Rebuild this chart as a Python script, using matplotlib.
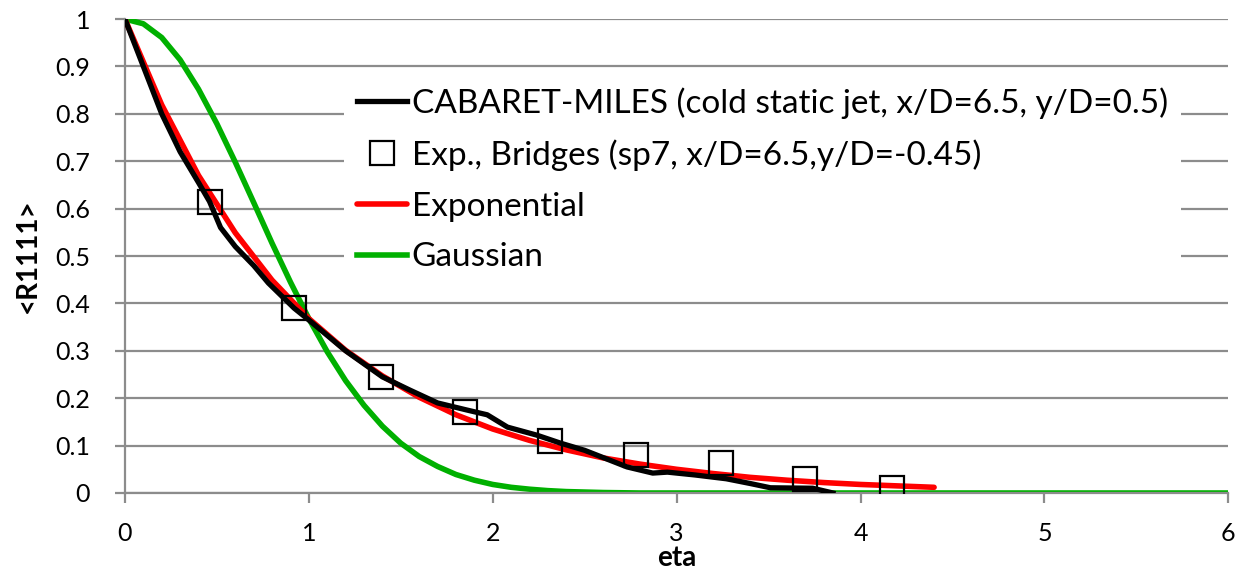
import numpy as np
import matplotlib
matplotlib.use("Agg")
from matplotlib import pyplot as plt

plt.rcParams['font.family'] = ['Lato', 'DejaVu Sans']

# CABARET-MILES correlation curve
les_eta = [0.0, 0.1, 0.2, 0.3, 0.4, 0.46, 0.52, 0.6, 0.7, 0.78, 0.92, 1.0, 1.2, 1.4,
           1.55, 1.7, 1.86, 1.97, 2.08, 2.24, 2.37, 2.5, 2.73, 2.87, 2.95, 3.1, 3.27,
           3.4, 3.51, 3.74, 3.85]
les_r = [1.0, 0.9, 0.80, 0.72, 0.655, 0.615, 0.56, 0.52, 0.48, 0.443, 0.39, 0.365, 0.30,
         0.245, 0.217, 0.19, 0.175, 0.165, 0.139, 0.122, 0.105, 0.09, 0.055, 0.042,
         0.044, 0.038, 0.030, 0.02, 0.011, 0.01, 0.0]

# Bridges experiment
exp_eta = [0.46, 0.92, 1.39, 1.85, 2.31, 2.78, 3.24, 3.70, 4.17]
exp_r = [0.615, 0.39, 0.245, 0.17, 0.11, 0.08, 0.063, 0.03, 0.01]

# exponential fit
fit_eta = [0.0, 0.2, 0.4, 0.6, 0.8, 1.0, 1.2, 1.4, 1.6, 1.8, 2.0, 2.2, 2.4, 2.6, 2.8,
           3.0, 3.2, 3.4, 3.6, 3.8, 4.0, 4.2, 4.4]
fit_r = [1.0, 0.819, 0.670, 0.549, 0.449, 0.368, 0.301, 0.247, 0.202, 0.165, 0.135,
         0.111, 0.091, 0.074, 0.061, 0.050, 0.041, 0.033, 0.027, 0.022, 0.018, 0.015,
         0.012]

# gaussian fit
gauss_eta = [0.0, 0.1, 0.2, 0.3, 0.4, 0.5, 0.6, 0.7, 0.8, 0.9, 1.0, 1.1, 1.2, 1.3, 1.4,
             1.5, 1.6, 1.7, 1.8, 1.9, 2.0, 2.1, 2.2, 2.3, 2.4, 2.5, 2.6, 2.8, 3.0, 6.0]
gauss_r = [1.0, 0.99, 0.961, 0.914, 0.852, 0.779, 0.698, 0.613, 0.527, 0.445, 0.368,
           0.298, 0.237, 0.185, 0.141, 0.105, 0.077, 0.056, 0.039, 0.027, 0.018, 0.012,
           0.008, 0.005, 0.003, 0.002, 0.001, 0.0, 0.0, 0.0]

grid_col = '#8c8c8c'

fig = plt.figure(figsize=(12.37, 5.77), dpi=100)
ax = fig.add_axes([0.101, 0.1456, 0.892, 0.8214])

ax.plot(les_eta, les_r, color='black', lw=3.8, label='CABARET-MILES (cold static jet, x/D=6.5, y/D=0.5)', zorder=4)
ax.plot(exp_eta, exp_r, ls='none', marker='s', ms=17, mfc='none', mec='black', mew=1.6,
        label='Exp., Bridges (sp7, x/D=6.5,y/D=-0.45)', zorder=5)
ax.plot(fit_eta, fit_r, color='#ff0000', lw=4, solid_capstyle='round', label='Exponential', zorder=3)
ax.plot(gauss_eta, gauss_r, color='#00b000', lw=4, label='Gaussian', zorder=2)

ax.set_xlim(0, 6)
ax.set_ylim(0, 1)
ax.set_xticks(np.arange(0, 7, 1))
ax.set_yticks(np.arange(0, 1.01, 0.1))
ax.set_yticklabels(['0', '0.1', '0.2', '0.3', '0.4', '0.5', '0.6', '0.7', '0.8', '0.9', '1'])
ax.grid(axis='y', color=grid_col, lw=1.6)
ax.set_axisbelow(True)
for s in ['top', 'right']:
    ax.spines[s].set_visible(False)
for s in ['left', 'bottom']:
    ax.spines[s].set_color(grid_col)
    ax.spines[s].set_linewidth(1.6)
ax.tick_params(axis='both', colors=grid_col, labelcolor='black', labelsize=18, width=1.6)
ax.tick_params(axis='y', length=7, pad=18)
ax.tick_params(axis='x', length=7, pad=14)

ax.set_xlabel('eta', fontsize=20, fontweight='bold', labelpad=0)
ax.set_ylabel('<R1111>', fontsize=20, fontweight='bold', labelpad=10)

leg = ax.legend(loc='upper left', bbox_to_anchor=(0.183, 0.92), fontsize=24, frameon=True,
                fancybox=False, edgecolor='none', facecolor='white', framealpha=1,
                handlelength=1.5, handletextpad=0.15, labelspacing=0.62, borderpad=0.4)
leg.set_zorder(6)

fig.savefig('out.png', dpi=100)
